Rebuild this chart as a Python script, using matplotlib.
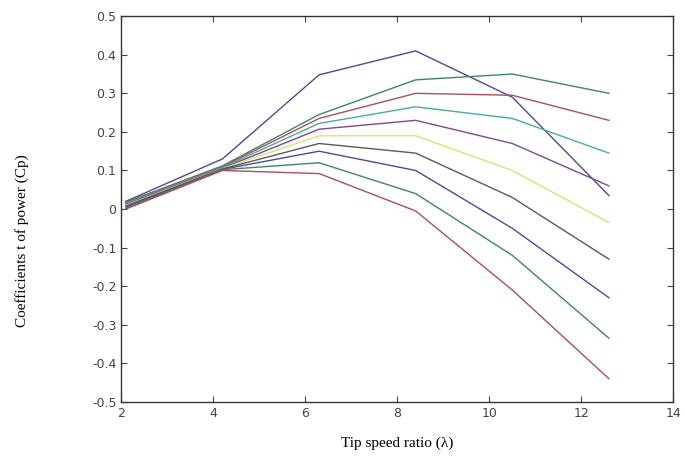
import numpy as np
import matplotlib
matplotlib.use('Agg')
import matplotlib.pyplot as plt

# Tip speed ratio sample points
tsr = [2.1, 4.2, 6.3, 8.4, 10.5, 12.6]

# Cp curves (one per pitch setting)
cp_1 = [0.020, 0.130, 0.348, 0.410, 0.290, 0.035]
cp_2 = [0.018, 0.112, 0.245, 0.335, 0.350, 0.300]
cp_3 = [0.016, 0.110, 0.235, 0.300, 0.295, 0.230]
cp_4 = [0.014, 0.108, 0.222, 0.265, 0.235, 0.145]
cp_5 = [0.012, 0.106, 0.207, 0.230, 0.170, 0.060]
cp_6 = [0.010, 0.105, 0.190, 0.190, 0.100, -0.035]
cp_7 = [0.008, 0.104, 0.170, 0.145, 0.030, -0.130]
cp_8 = [0.005, 0.103, 0.150, 0.100, -0.050, -0.230]
cp_9 = [0.002, 0.102, 0.120, 0.040, -0.120, -0.335]
cp_10 = [0.000, 0.100, 0.092, -0.005, -0.210, -0.440]

curves = [cp_1, cp_2, cp_3, cp_4, cp_5, cp_6, cp_7, cp_8, cp_9, cp_10]

# washed-out versions of the old MATLAB colour order b, g, r, c, m, y, k
colors = ['#4b4b96', '#3f8660', '#a8505e', '#4aa8a8', '#7c4a8e',
          '#dede78', '#5a5a5a', '#4b4b96', '#3f8660', '#a8505e']

fig = plt.figure(figsize=(6.85, 4.63), dpi=100)
ax = fig.add_axes([0.177, 0.132, 0.806, 0.833])

for cp, c in zip(curves, colors):
    ax.plot(tsr, cp, color=c, linewidth=1.0)

ax.set_xlim(2, 14)
ax.set_ylim(-0.5, 0.5)
ax.set_xticks([2, 4, 6, 8, 10, 12, 14])
ax.set_yticks(np.arange(-0.5, 0.51, 0.1))
ax.set_yticklabels(['-0.5', '-0.4', '-0.3', '-0.2', '-0.1', '0',
                    '0.1', '0.2', '0.3', '0.4', '0.5'])

ax.tick_params(direction='in', top=True, right=True, length=4,
               labelsize=9, labelcolor='#444444', color='#444444')
for s in ax.spines.values():
    s.set_color('#333333')
    s.set_linewidth(1.0)

ax.set_xlabel('Tip speed ratio (λ)', fontsize=11, family='Liberation Serif', labelpad=12)
fig.text(0.032, 0.48, 'Coefficients t of power (Cp)', rotation=90, fontsize=11,
         family='Liberation Serif', ha='center', va='center')

fig.savefig('out.png', dpi=100, facecolor='white')
